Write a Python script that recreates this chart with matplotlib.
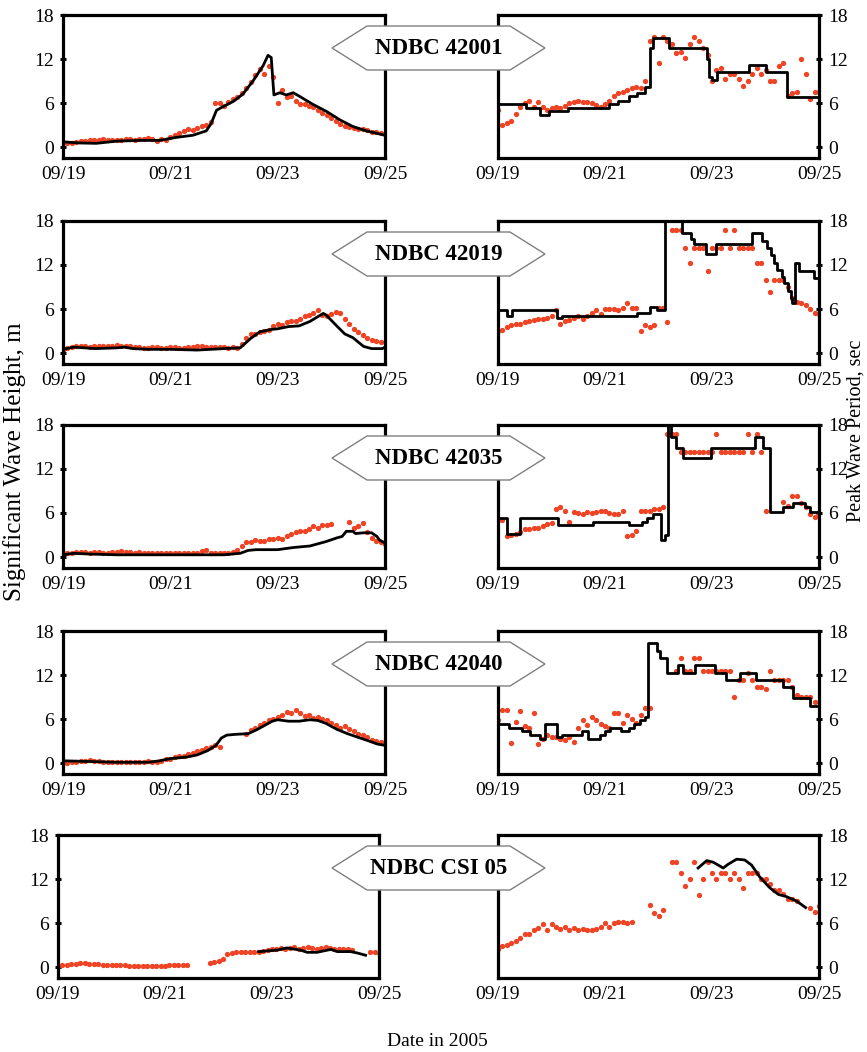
import numpy as np
import matplotlib
matplotlib.use("Agg")
import matplotlib.pyplot as plt
from matplotlib.patches import Polygon

plt.rcParams['font.family'] = ['Liberation Serif', 'DejaVu Serif']

nan = np.nan
stations = ["NDBC 42001", "NDBC 42019", "NDBC 42035", "NDBC 42040", "NDBC CSI 05"]
tick_days = [0, 2, 4, 6]
tick_labels = ["09/19", "09/21", "09/23", "09/25"]

# observed (buoy) values, every 2 hours from 09/19 00:00 to 09/25 00:00
obs_hours = list(range(0, 145, 2))

hs_obs_42001 = [0.5, 0.6, 0.6, 0.7, 0.8, 0.8, 0.9, 0.9, 1.0, 1.1, 0.9, 1.0,
                1.0, 1.0, 1.1, 1.1, 1.0, 1.1, 1.1, 1.2, 1.1, 0.8, 1.1, 1.0,
                1.4, 1.6, 1.9, 2.2, 2.4, 2.3, 2.6, 2.8, 3.0, 3.4, 6.0, 6.0,
                5.6, 6.2, 6.5, 6.8, 7.3, 8.0, 8.8, 9.8, 10.6, 10.0, 11.0, 9.6,
                6.0, 7.8, 6.8, 7.0, 6.3, 5.8, 5.8, 5.6, 5.4, 5.0, 4.6, 4.4,
                4.0, 3.6, 3.2, 2.9, 2.7, 2.6, 2.5, 2.4, 2.3, 2.1, 2.0, 1.9, 1.8]
hs_obs_42019 = [0.4, 0.7, 0.8, 0.9, 0.9, 0.9, 0.8, 0.9, 1.0, 1.0, 0.9, 1.0,
                1.1, 1.0, 1.0, 0.9, 0.8, 0.8, 0.7, 0.7, 0.8, 0.8, 0.7, 0.7,
                0.8, 0.8, 0.7, 0.7, 0.8, 0.8, 0.9, 1.0, 0.8, 0.8, 0.8, 0.8,
                0.8, 0.7, 0.8, 0.7, 1.2, 2.0, 2.6, 2.6, 2.8, 3.0, 3.2, 3.7,
                4.0, 3.8, 4.2, 4.4, 4.3, 4.6, 5.0, 5.2, 5.5, 5.8, 5.2, 5.0,
                5.3, 5.6, 5.5, 4.6, 4.0, 3.3, 2.8, 2.4, 2.0, 1.8, 1.6, 1.5, 1.5]
hs_obs_42035 = [0.5, 0.6, 0.6, 0.7, 0.7, 0.7, 0.6, 0.7, 0.7, 0.6, 0.6, 0.7,
                0.7, 0.8, 0.7, 0.7, 0.6, 0.7, 0.6, 0.6, 0.6, 0.6, 0.5, 0.5,
                0.6, 0.5, 0.5, 0.5, 0.5, 0.5, 0.6, 0.8, 0.9, 0.6, 0.5, 0.5,
                0.5, 0.6, 0.7, 0.9, 1.5, 2.0, 2.1, 2.3, 2.2, 2.2, 2.4, 2.5,
                2.6, 2.5, 2.8, 3.2, 3.4, 3.6, 3.5, 3.8, 4.2, 4.0, 4.3, 4.4,
                4.5, nan, nan, nan, 4.8, 4.0, 4.2, 4.6, 3.4, 2.6, 2.2, 2.0, 1.8]
hs_obs_42040 = [0.0, 0.0, 0.1, 0.2, 0.3, 0.3, 0.4, 0.3, 0.3, 0.2, 0.2, 0.2,
                0.2, 0.1, 0.2, 0.2, 0.2, 0.2, 0.2, 0.3, 0.1, 0.2, 0.3, 0.5,
                0.6, 0.8, 0.9, 1.0, 1.2, 1.4, 1.6, 1.8, 2.0, 2.2, 2.4, 2.2,
                nan, nan, nan, nan, nan, 4.0, 4.5, 4.8, 5.2, 5.5, 5.8, 6.0,
                6.3, 6.5, 7.0, 6.8, 7.2, 6.8, 6.4, 6.5, 6.2, 6.3, 6.0, 5.8,
                5.5, 5.2, 4.8, 5.0, 4.6, 4.3, 4.0, 3.8, 3.5, 3.2, 3.0, 2.9, 2.8]
hs_obs_csi05 = [0.2, 0.3, 0.3, 0.4, 0.4, 0.5, 0.5, 0.4, 0.4, 0.4, 0.3, 0.3,
                0.3, 0.3, 0.3, 0.3, 0.2, 0.2, 0.2, 0.1, 0.1, 0.2, 0.2, 0.2,
                0.2, 0.3, 0.3, 0.3, 0.3, 0.3, nan, nan, nan, nan, 0.6, 0.7,
                0.8, 1.1, 1.8, 1.9, 2.0, 2.1, 2.0, 2.1, 2.0, 2.1, 2.2, 2.3,
                2.4, 2.5, 2.6, 2.4, 2.6, 2.7, 2.5, 2.6, 2.7, 2.6, 2.5, 2.6,
                2.7, 2.6, 2.5, 2.4, 2.5, 2.4, 2.3, nan, nan, nan, 2.0, 2.0, 1.9]

tp_obs_42001 = [5.0, 3.0, 3.3, 3.6, 4.5, 5.5, 6.0, 6.3, 5.5, 6.2, 5.5, 5.0,
                5.3, 5.4, 5.3, 5.6, 6.0, 6.2, 6.3, 6.1, 6.2, 6.0, 5.7, 5.4,
                5.8, 6.3, 7.0, 7.3, 7.5, 7.8, 8.0, 8.2, 8.0, 9.0, 14.5, 15.0,
                11.5, 15.0, 14.5, 14.0, 12.8, 13.0, 12.2, 14.0, 15.0, 14.5, 13.5, 12.5,
                9.0, 10.5, 10.8, 9.3, 10.0, 10.0, 9.3, 8.3, 9.0, 10.0, 10.8, 10.0,
                10.5, 9.0, 9.0, 11.0, 11.5, 7.0, 7.3, 7.5, 12.0, 10.0, 6.5, 7.5, 7.5]
tp_obs_42019 = [3.0, 3.2, 3.6, 3.8, 3.9, 4.0, 4.2, 4.4, 4.5, 4.6, 4.7, 4.8,
                5.0, 5.8, 4.0, 4.3, 4.5, 4.8, 5.0, 4.7, 5.0, 5.5, 5.8, 5.3,
                6.0, 6.0, 6.0, 5.8, 6.2, 6.8, 6.2, 6.2, 3.0, 3.8, 3.6, 3.8,
                6.2, 6.2, 4.2, 16.8, 16.8, 16.8, 14.3, 12.3, 14.3, 14.3, 14.3, 11.2,
                14.3, 14.3, 14.3, 16.8, 14.3, 16.8, 14.3, 14.3, 14.3, 14.3, 12.3, 12.3,
                10.0, 8.3, 10.0, 10.0, 10.0, 9.0, 7.5, 7.0, 6.8, 6.5, 6.0, 5.5, 5.3]
tp_obs_42035 = [5.0, 5.0, 2.8, 3.0, 3.2, 3.4, 3.8, 3.8, 4.0, 4.0, 4.2, 4.5,
                4.6, 6.5, 6.8, 6.3, 4.8, 6.2, 6.0, 5.8, 6.2, 6.0, 6.2, 6.3,
                6.3, 6.0, 5.8, 5.8, 6.3, 2.9, 3.0, 3.5, 6.3, 6.3, 6.3, 6.5,
                6.6, 6.8, 16.8, 16.8, 16.8, 14.3, 14.3, 14.3, 14.3, 14.3, 14.3, 14.3,
                14.3, 16.8, 14.3, 14.3, 14.3, 14.3, 14.3, 14.3, 16.8, 14.3, 16.8, 14.3,
                6.3, nan, nan, nan, 7.5, 7.0, 8.3, 8.3, 7.3, 6.8, 5.8, 5.5, 5.8]
tp_obs_42040 = [5.8, 7.2, 7.2, 2.7, 5.6, 7.1, 5.0, 4.8, 6.8, 2.6, 3.3, 3.8,
                3.6, 3.5, 3.3, 3.2, 3.5, 2.8, 4.8, 5.8, 5.2, 6.3, 5.8, 5.3,
                5.0, 4.8, 6.8, 6.8, 5.5, 6.5, 6.0, 5.5, 6.5, 7.5, 7.5, nan,
                nan, nan, nan, nan, 12.5, 14.3, 12.5, 12.5, 14.3, 14.3, 12.5, 12.5,
                12.5, 12.5, 12.5, 12.5, 12.5, 9.0, 11.3, 11.3, 12.3, 11.3, 10.3, 10.3,
                10.1, 12.5, 11.3, 11.3, 11.3, 11.3, 10.3, 9.3, 9.0, 9.0, 9.0, 8.3, 8.3]
tp_obs_csi05 = [2.5, 2.8, 3.0, 3.3, 3.5, 4.0, 4.5, 4.5, 5.0, 5.3, 5.8, 5.0,
                5.8, 5.5, 5.2, 5.5, 5.0, 5.3, 5.0, 5.2, 5.0, 5.0, 5.2, 5.5,
                6.0, 5.5, 6.0, 6.2, 6.2, 6.0, 6.2, nan, nan, nan, 8.4, 7.3,
                7.0, 7.8, nan, 14.3, 14.3, 12.8, 11.0, 12.0, 14.3, 9.8, 12.0, 14.3,
                12.8, 12.0, 12.8, 12.8, 12.0, 12.8, 12.0, 10.8, 12.8, 12.8, 12.8, 12.0,
                12.0, 11.3, 10.5, 10.5, 10.0, 9.3, 9.3, 9.0, nan, nan, 8.0, 7.5, 8.3]

# model significant wave height (smooth curves)
hs_mod_days_42001 = [0, 0.31, 0.62, 1.0, 1.43, 1.8, 2.1, 2.42, 2.67, 2.76, 2.86, 2.98, 3.17, 3.35,
                     3.54, 3.73, 3.82, 3.88, 3.93, 4.04, 4.16, 4.29, 4.41, 4.66, 4.91, 5.16, 5.4,
                     5.65, 6.0]
hs_mod_42001 = [0.7, 0.55, 0.5, 0.8, 0.9, 0.9, 1.3, 1.6, 2.2, 3.2, 5.0, 5.5, 6.2, 7.2,
                9.0, 11.1, 12.5, 12.2, 7.1, 7.4, 7.1, 7.4, 6.9, 5.8, 4.85, 3.7, 2.8,
                2.2, 1.6]
hs_mod_days_42019 = [0, 0.2, 0.6, 1.0, 1.15, 1.3, 1.6, 2.0, 2.5, 3.0, 3.3, 3.5, 3.67, 3.87, 4.0,
                     4.2, 4.4, 4.6, 4.85, 4.9, 5.1, 5.25, 5.4, 5.6, 5.75, 5.95, 6.0]
hs_mod_42019 = [0.5, 0.8, 0.6, 0.7, 0.8, 0.6, 0.5, 0.5, 0.4, 0.6, 0.7, 2.0, 2.9, 3.2, 3.3,
                3.6, 3.7, 4.3, 5.4, 5.2, 3.7, 2.6, 2.1, 0.9, 0.6, 0.6, 0.8]
hs_mod_days_42035 = [0, 0.2, 0.5, 1.0, 2.0, 3.0, 3.3, 3.45, 3.6, 4.0, 4.3, 4.6, 4.9, 5.1, 5.2,
                     5.28, 5.4, 5.45, 5.6, 5.75, 5.85, 5.9, 6.0]
hs_mod_42035 = [0.3, 0.5, 0.4, 0.3, 0.3, 0.3, 0.5, 0.9, 1.0, 1.0, 1.3, 1.5, 2.1, 2.6, 2.8,
                3.5, 3.5, 3.2, 3.3, 3.3, 2.8, 2.3, 1.9]
hs_mod_days_42040 = [0, 0.5, 1.0, 1.6, 1.8, 2.0, 2.3, 2.5, 2.7, 2.85, 2.95, 3.05, 3.2, 3.45, 3.6,
                     3.75, 3.9, 4.0, 4.2, 4.4, 4.6, 4.75, 4.9, 5.1, 5.3, 5.5, 5.7, 5.85, 6.0]
hs_mod_42040 = [0.3, 0.2, 0.1, 0.1, 0.3, 0.6, 0.8, 1.1, 1.7, 2.4, 3.4, 3.8, 3.9, 4.0, 4.5,
                5.1, 5.7, 5.9, 5.7, 5.7, 5.9, 5.8, 5.4, 4.6, 4.0, 3.5, 3.0, 2.6, 2.4]
hs_mod_days_csi05 = [3.75, 4.1, 4.28, 4.53, 4.66, 4.84, 5.1, 5.22, 5.47, 5.6, 5.75]
hs_mod_csi05 = [2.1, 2.3, 2.6, 2.3, 2.0, 2.0, 2.4, 2.1, 2.1, 1.9, 1.6]

# model peak period (step curves, value holds until next day mark)
tp_mod_days_42001 = [0, 0.52, 0.78, 0.95, 1.3, 2.08, 2.25, 2.45, 2.6, 2.75, 2.85, 2.9, 3.2,
                     3.9, 3.95, 4.0, 4.1, 4.7, 5.0, 5.4, 6.0]
tp_mod_42001 = [5.8, 5.3, 4.4, 4.9, 5.3, 5.8, 6.3, 6.9, 7.4, 8.2, 13.5, 14.8, 13.5,
                12.0, 9.6, 9.2, 10.2, 11.2, 10.2, 6.8, 6.8]
tp_mod_days_42019 = [0, 0.17, 0.26, 1.1, 1.2, 2.6, 2.85, 2.97, 3.12, 3.44, 3.6, 3.66, 3.88, 4.07,
                     4.75, 4.94, 5.03, 5.1, 5.15, 5.22, 5.3, 5.35, 5.42, 5.47, 5.5, 5.56, 5.63,
                     5.9, 6.0]
tp_mod_42019 = [5.8, 5.1, 5.8, 4.8, 5.1, 5.5, 6.3, 5.8, 20.0, 16.3, 15.5, 14.8, 13.5, 14.8,
                16.3, 15.3, 14.3, 13.3, 12.3, 11.3, 10.3, 9.5, 8.5, 7.5, 6.8, 12.3, 11.2,
                10.2, 10.2]
tp_mod_days_42035 = [0, 0.17, 0.42, 1.13, 1.78, 2.44, 2.69, 2.78, 2.9, 3.05, 3.12, 3.18, 3.23,
                     3.33, 3.46, 3.99, 4.8, 4.96, 5.08, 5.33, 5.52, 5.73, 5.83, 6.0]
tp_mod_42035 = [5.3, 3.2, 5.3, 4.3, 4.8, 4.3, 4.8, 5.3, 5.8, 2.3, 3.0, 18.5, 16.3,
                14.8, 13.5, 14.8, 16.3, 14.8, 6.2, 6.8, 7.4, 6.8, 6.2, 6.2]
tp_mod_days_42040 = [0, 0.2, 0.45, 0.6, 0.79, 0.87, 1.1, 1.19, 1.57, 1.69, 1.9, 2.0, 2.1, 2.3,
                     2.45, 2.55, 2.65, 2.75, 2.81, 2.97, 3.03, 3.15, 3.37, 3.46, 3.68, 4.05,
                     4.27, 4.52, 4.83, 5.33, 5.52, 5.83, 6.0]
tp_mod_42040 = [5.3, 4.8, 4.3, 3.8, 3.3, 5.3, 3.5, 3.8, 4.3, 3.3, 3.8, 4.3, 4.8, 4.3,
                4.8, 5.3, 5.8, 6.3, 16.3, 15.3, 14.3, 12.3, 13.3, 12.3, 13.3, 12.3,
                11.3, 12.3, 11.3, 10.3, 8.8, 7.8, 7.8]
tp_mod_days_csi05 = [3.74, 3.9, 4.02, 4.21, 4.3, 4.46, 4.61, 4.74, 4.89, 5.08, 5.24, 5.39, 5.58, 5.75]
tp_mod_csi05 = [13.5, 14.5, 14.3, 13.5, 14.0, 14.7, 14.6, 13.9, 12.3, 10.8, 9.9, 9.6, 9.0, 8.1]

hs_obs = [hs_obs_42001, hs_obs_42019, hs_obs_42035, hs_obs_42040, hs_obs_csi05]
tp_obs = [tp_obs_42001, tp_obs_42019, tp_obs_42035, tp_obs_42040, tp_obs_csi05]
hs_mod = [(hs_mod_days_42001, hs_mod_42001), (hs_mod_days_42019, hs_mod_42019),
          (hs_mod_days_42035, hs_mod_42035), (hs_mod_days_42040, hs_mod_42040),
          (hs_mod_days_csi05, hs_mod_csi05)]
tp_mod = [(tp_mod_days_42001, tp_mod_42001), (tp_mod_days_42019, tp_mod_42019),
          (tp_mod_days_42035, tp_mod_42035), (tp_mod_days_42040, tp_mod_42040),
          (tp_mod_days_csi05, tp_mod_csi05)]
tp_is_step = [True, True, True, True, False]

W, H = 867, 1052
RED = "#ef4323"
fig = plt.figure(figsize=(W / 100, H / 100), dpi=100)

def px_axes(x0, y0, x1, y1):
    return fig.add_axes([x0 / W, 1 - y1 / H, (x1 - x0) / W, (y1 - y0) / H])

def style(ax, side):
    ax.set_xlim(0, 6)
    ax.set_ylim(-1.5, 18)
    ax.set_xticks(tick_days)
    ax.set_xticklabels(tick_labels)
    ax.set_yticks([0, 6, 12, 18])
    for s in ax.spines.values():
        s.set_linewidth(2.3)
    ax.tick_params(axis="x", length=0, pad=6, labelsize=14)
    ax.tick_params(axis="y", direction="inout", length=5, width=2.2, pad=4, labelsize=14)
    if side == "right":
        ax.yaxis.tick_right()

obs_days = np.array(obs_hours) / 24.0
row_tops = [15, 221, 425, 631, 835]
row_h = 143
for i in range(5):
    top = row_tops[i]
    lx0, lx1 = (63, 385) if i < 4 else (58, 379)
    axl = px_axes(lx0, top, lx1, top + row_h)
    axr = px_axes(498, top, 819, top + row_h)

    axl.plot(obs_days, hs_obs[i], "o", color=RED, ms=3.8, mec="none", zorder=2)
    d, v = hs_mod[i]
    axl.plot(d, v, color="black", lw=2.0, zorder=3)
    style(axl, "left")

    axr.plot(obs_days, tp_obs[i], "o", color=RED, ms=3.8, mec="none", zorder=2)
    d, v = tp_mod[i]
    if tp_is_step[i]:
        axr.plot(d, v, color="black", lw=2.0, drawstyle="steps-post", zorder=3)
    else:
        axr.plot(d, v, color="black", lw=2.0, zorder=3)
    style(axr, "right")

    # hexagonal station label
    yc = top + 33
    pts = [(332, yc), (367, yc - 22), (510, yc - 22), (545, yc), (510, yc + 22), (367, yc + 22)]
    pts = [(x / W, 1 - y / H) for x, y in pts]
    fig.add_artist(Polygon(pts, closed=True, facecolor="white", edgecolor="#808080",
                           lw=1.0, transform=fig.transFigure, zorder=10))
    fig.text(439 / W, 1 - (yc + 1) / H, stations[i], ha="center", va="center",
             fontsize=16.5, fontweight="bold", zorder=11)

fig.text(15 / W, 1 - 462 / H, "Significant Wave Height, m", rotation=90,
         ha="center", va="center", fontsize=18)
fig.text(856 / W, 1 - 431 / H, "Peak Wave Period, sec", rotation=90,
         ha="center", va="center", fontsize=14.5)
fig.text(437 / W, 1 - 1042 / H, "Date in 2005", ha="center", va="center", fontsize=14)

fig.savefig("out.png", dpi=100)
